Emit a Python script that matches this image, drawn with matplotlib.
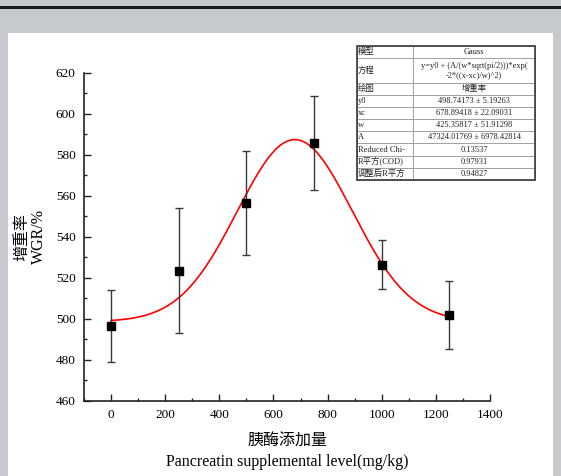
import numpy as np
import matplotlib
matplotlib.use("Agg")
import matplotlib.pyplot as plt
from matplotlib.patches import Rectangle
from matplotlib.ticker import MultipleLocator

plt.rcParams['font.family'] = ['Liberation Serif', 'Noto Sans CJK SC']
plt.rcParams['mathtext.default'] = 'regular'

# data
levels = [0, 250, 500, 750, 1000, 1250]
wgr = [496.5, 523.5, 556.5, 586.0, 526.5, 501.8]
err = [17.5, 30.5, 25.3, 23.0, 12.0, 16.5]

# Gauss fit parameters (from table)
y0, xc, w, A = 498.74173, 678.89418, 425.35817, 47324.01769

table_rows = [
    ["模型", "Gauss"],
    ["方程", "y=y0 + (A/(w*sqrt(pi/2)))*exp(\n-2*((x-xc)/w)^2)"],
    ["绘图", "增重率"],
    ["y0", "498.74173 ± 5.19263"],
    ["xc", "678.89418 ± 22.09031"],
    ["w", "425.35817 ± 51.91298"],
    ["A", "47324.01769 ± 6978.42814"],
    ["Reduced Chi-", "0.13537"],
    ["R平方(COD)", "0.97931"],
    ["调整后R平方", "0.94827"],
]

W, H = 561, 476
fig = plt.figure(figsize=(W / 100, H / 100), dpi=100)
fig.patch.set_facecolor('#c6cace')
# top dark line and white panel
fig.patches.append(Rectangle((0, 1 - 8.6 / H), 1, 2.2 / H, transform=fig.transFigure,
                             facecolor='#1a1a1a', edgecolor='none', zorder=-10))
fig.patches.append(Rectangle((8 / W, 0), (553 - 8) / W, (H - 33) / H, transform=fig.transFigure,
                             facecolor='white', edgecolor='none', zorder=-10))

ax = fig.add_axes([84 / W, 1 - 401 / H, (490 - 84) / W, (401 - 73) / H])
ax.set_facecolor('none')

xs = np.linspace(levels[0], levels[-1], 400)
ys = y0 + A / (w * np.sqrt(np.pi / 2)) * np.exp(-2 * ((xs - xc) / w) ** 2)
ax.plot(xs, ys, color='#ff0000', lw=1.2, zorder=2)
ax.errorbar(levels, wgr, yerr=err, fmt='s', color='black', ecolor='#3a3a3a',
            elinewidth=1.0, capsize=2.7, capthick=1.0, markersize=5.8, zorder=3)

ax.set_xlim(-100, 1400)
ax.set_ylim(460, 620)
ax.xaxis.set_major_locator(MultipleLocator(200))
ax.xaxis.set_minor_locator(MultipleLocator(100))
ax.yaxis.set_major_locator(MultipleLocator(20))
ax.yaxis.set_minor_locator(MultipleLocator(10))
ax.spines['top'].set_visible(False)
ax.spines['right'].set_visible(False)
for s in ['left', 'bottom']:
    ax.spines[s].set_linewidth(1.2)
    ax.spines[s].set_color('#222222')
ax.tick_params(which='both', direction='in', colors='#222222', labelcolor='black', labelsize=9.5)
ax.tick_params(which='major', length=5, width=1.0, pad=6)
ax.tick_params(which='minor', length=2.5, width=1.0)
ax.set_xticks(np.arange(0, 1401, 200))

ax.set_xlabel("胰酶添加量\nPancreatin supplemental level(mg/kg)", fontsize=11.5, labelpad=9,
              linespacing=1.35)
ax.set_ylabel("增重率\nWGR/%", fontsize=11.5, labelpad=6, linespacing=1.1)

# table
x0, x1 = (357 - 84) / 406, (535 - 84) / 406
yb, yt = (401 - 180) / 328, (401 - 46) / 328
tab = ax.table(cellText=table_rows, colWidths=[56, 122], cellLoc='center',
               bbox=[x0, yb, x1 - x0, yt - yb], zorder=5)
tab.auto_set_font_size(False)
tab.set_fontsize(6)
for (r, c), cell in tab.get_celld().items():
    cell.set_edgecolor('#9a9a9a')
    cell.set_linewidth(0.6)
    cell.get_text().set_color('#222222')
    if r == 1:
        cell.set_height(cell.get_height() * 2)
    if c == 0:
        cell.get_text().set_ha('left')
        cell._loc = 'left'
        cell.PAD = 0.02
tab.set_clip_on(False)
# outer border
ax.add_patch(Rectangle((x0, yb), x1 - x0, yt - yb, transform=ax.transAxes, fill=False,
                       edgecolor='#444444', lw=1.3, zorder=6, clip_on=False))

fig.savefig('out.png', dpi=100, facecolor=fig.get_facecolor())
